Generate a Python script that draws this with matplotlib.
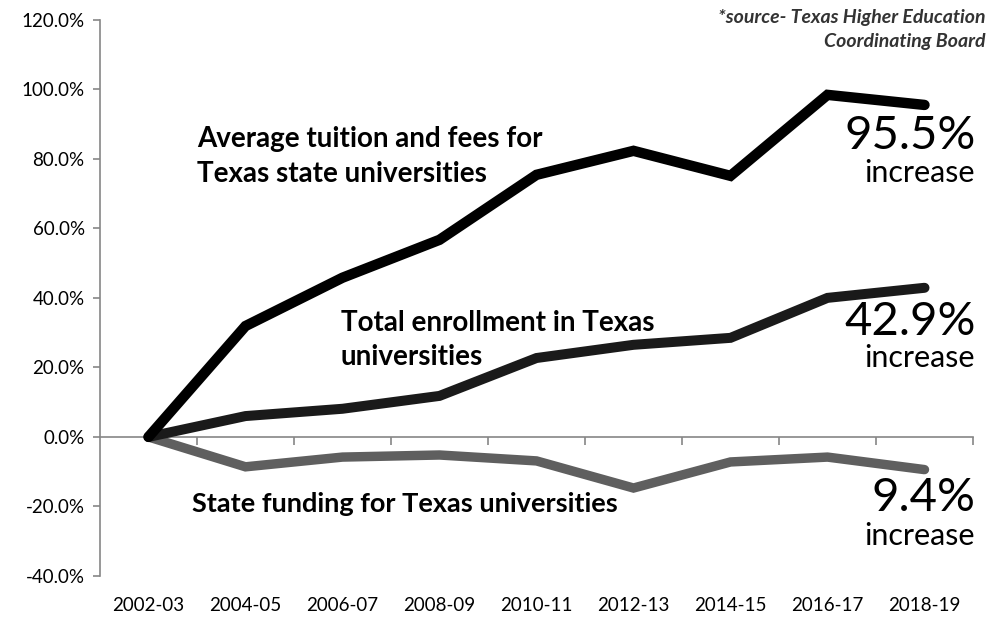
import numpy as np
import matplotlib
matplotlib.use("Agg")
import matplotlib.pyplot as plt
from matplotlib.ticker import FuncFormatter, MultipleLocator, FixedLocator

plt.rcParams['font.family'] = ['Lato', 'DejaVu Sans']

years = ['2002-03', '2004-05', '2006-07', '2008-09', '2010-11',
         '2012-13', '2014-15', '2016-17', '2018-19']
tuition = [0.0, 31.9, 45.8, 56.7, 75.4, 82.3, 75.1, 98.4, 95.5]
enrollment = [0.0, 6.0, 8.1, 11.8, 22.7, 26.5, 28.5, 40.0, 42.9]
funding = [0.0, -8.6, -5.8, -5.2, -6.9, -14.7, -7.2, -5.8, -9.4]

fig = plt.figure(figsize=(10, 6.18), dpi=100)
ax = fig.add_axes([0.100, 0.068, 0.873, 0.900])

x = np.arange(len(years))
ax.plot(x, funding, color='#5f5f5f', lw=6.8, solid_capstyle='round', solid_joinstyle='miter', zorder=3)
ax.plot(x, enrollment, color='#1a1a1a', lw=7.2, solid_capstyle='round', solid_joinstyle='miter', zorder=4)
ax.plot(x, tuition, color='#000000', lw=7.5, solid_capstyle='round', solid_joinstyle='miter', zorder=5)

ax.set_xlim(-0.5, len(years) - 0.5)
ax.set_ylim(-40, 120)
ax.yaxis.set_major_locator(MultipleLocator(20))
ax.yaxis.set_major_formatter(FuncFormatter(lambda v, p: '%.1f%%' % v))

gray = '#868686'
for s in ['top', 'right']:
    ax.spines[s].set_visible(False)
ax.spines['left'].set_color(gray)
ax.spines['left'].set_linewidth(1.2)
ax.spines['bottom'].set_position(('data', 0))
ax.spines['bottom'].set_color(gray)
ax.spines['bottom'].set_linewidth(1.2)
ax.tick_params(axis='y', colors=gray, length=5, width=1.2, labelsize=13.5,
               labelcolor='#000000', pad=6)
ax.xaxis.set_major_locator(FixedLocator(np.arange(0.5, len(years), 1.0)))
ax.tick_params(axis='x', colors=gray, length=6, width=1.2, labelbottom=False)

sec = ax.secondary_xaxis('bottom')
sec.set_xticks(x)
sec.set_xticklabels(years)
sec.tick_params(length=0, labelsize=13.5, pad=15)
sec.spines['bottom'].set_visible(False)

# labels for the series
ax.text(0.5, 80.7, 'Average tuition and fees for\nTexas state universities',
        fontsize=20, fontweight='bold', ha='left', va='center', linespacing=1.4)
ax.text(1.98, 27.8, 'Total enrollment in Texas\nuniversities',
        fontsize=20, fontweight='bold', ha='left', va='center', linespacing=1.4)
ax.text(0.45, -19.2, 'State funding for Texas universities',
        fontsize=19.5, fontweight='bold', ha='left', va='center')

big = [(tuition[-1], 86.6, 76.0), (enrollment[-1], 33.0, 22.6),
       (abs(funding[-1]), -17.6, -28.4)]
for val, ynum, yword in big:
    ax.text(8.53, ynum, '%.1f%%' % val, fontsize=34, fontweight='normal',
            ha='right', va='center')
    ax.text(8.52, yword, 'increase', fontsize=22, fontweight='normal',
            ha='right', va='center')

fig.text(0.985, 0.985, '*source- Texas Higher Education\nCoordinating Board',
         fontsize=14, fontweight='bold', style='italic', color='#333333',
         ha='right', va='top', linespacing=1.45)

fig.savefig('out.png', dpi=100)
